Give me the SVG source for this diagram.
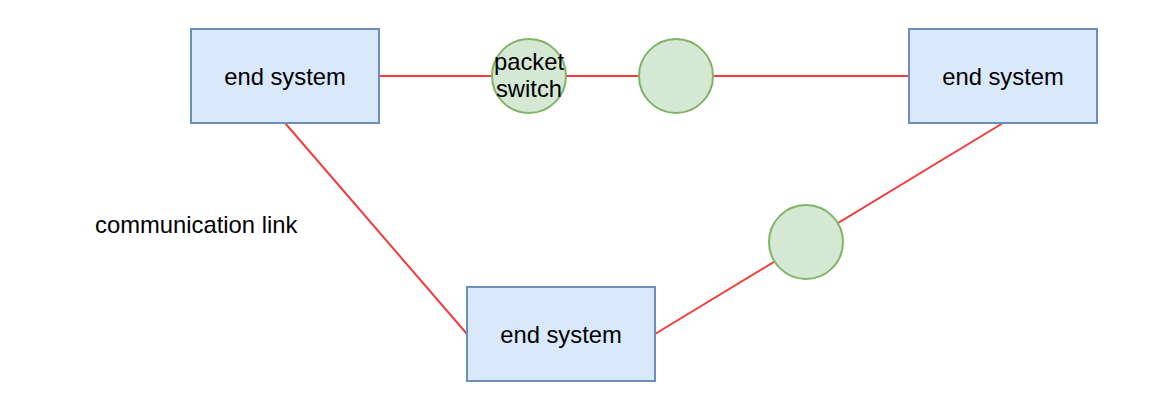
<svg xmlns="http://www.w3.org/2000/svg" width="1170" height="400" viewBox="0 0 1170 400">
<style>
.box{fill:#dae8fc;stroke:#6c8ebf;stroke-width:2}
.sw{fill:#d5e8d4;stroke:#82b366;stroke-width:2}
.link{stroke:#f03c3c;stroke-width:2;fill:none}
text{font-family:"Liberation Sans",Arial,sans-serif;font-size:23.8px;fill:#000}
.c{text-anchor:middle}
</style>
<rect width="1170" height="400" fill="#ffffff"/>
<g id="connectors">
<line class="link" x1="379" y1="76" x2="909" y2="76"/>
<line class="link" x1="285" y1="123" x2="467" y2="334"/>
<line class="link" x1="655" y1="334" x2="1003" y2="123"/>
</g>
<g id="end-system-1">
<rect class="box" x="191" y="29" width="188" height="94"/>
<text class="c" x="285" y="84.5">end system</text>
</g>
<g id="end-system-2">
<rect class="box" x="909" y="29" width="188" height="94"/>
<text class="c" x="1003" y="84.5">end system</text>
</g>
<g id="end-system-3">
<rect class="box" x="467" y="287" width="188" height="94"/>
<text class="c" x="561" y="342.5">end system</text>
</g>
<g id="packet-switch">
<circle class="sw" cx="529" cy="76" r="37"/>
<text class="c" x="529" y="70">packet</text>
<text class="c" x="529" y="97">switch</text>
</g>
<g id="switch-2">
<circle class="sw" cx="676" cy="76" r="37"/>
</g>
<g id="switch-3">
<circle class="sw" cx="806" cy="242" r="37"/>
</g>
<g id="label-communication-link">
<text x="95" y="233">communication link</text>
</g>
</svg>
